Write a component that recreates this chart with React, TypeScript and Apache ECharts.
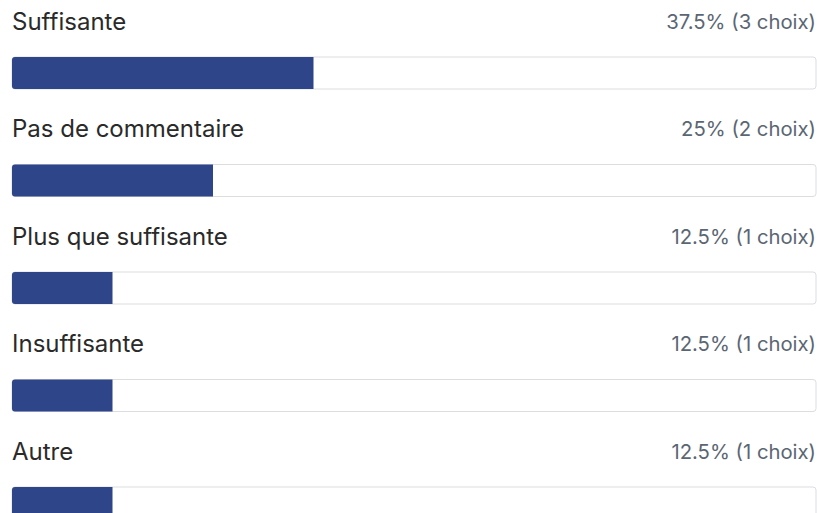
import React, { useEffect, useRef } from "react";
import * as echarts from "echarts";

const categories = ["Suffisante", "Pas de commentaire", "Plus que suffisante", "Insuffisante", "Autre"];
const percents = [37.5, 25, 12.5, 12.5, 12.5];
const counts = [3, 2, 1, 1, 1];
const fullScale = [100, 100, 100, 100, 100];

export default function App() {
  const ref = useRef<HTMLDivElement>(null);
  useEffect(() => {
    if (!ref.current) return;
    const chart = echarts.init(ref.current, null, { renderer: "svg" });
    const font = "Inter, 'Noto Sans', sans-serif";
    chart.setOption({
      animation: false,
      grid: { left: 12, right: 1, top: 19.25, height: 537.5, outerBoundsMode: "none", containLabel: false },
      xAxis: { type: "value", min: 0, max: 100, show: false },
      yAxis: { type: "category", data: categories, inverse: true, show: false },
      series: [
        {
          type: "bar",
          data: percents,
          barWidth: 32,
          itemStyle: { color: "#2e4589", borderRadius: [3, 0, 0, 3] },
          showBackground: true,
          backgroundStyle: { color: "#ffffff", borderColor: "#dcdde0", borderWidth: 1, borderRadius: 3 },
          silent: true,
        },
        {
          type: "bar",
          data: fullScale,
          barWidth: 32,
          barGap: "-100%",
          itemStyle: { color: "transparent" },
          silent: true,
          label: {
            show: true,
            position: [0, -36],
            align: "left",
            verticalAlign: "middle",
            formatter: (p: any) => categories[p.dataIndex],
            color: "#2a2a2a",
            fontSize: 24,
            fontFamily: font,
          },
        },
        {
          type: "bar",
          data: fullScale,
          barWidth: 32,
          barGap: "-100%",
          itemStyle: { color: "transparent" },
          silent: true,
          label: {
            show: true,
            position: ["100%", -36],
            align: "right",
            verticalAlign: "middle",
            formatter: (p: any) => `${percents[p.dataIndex]}% (${counts[p.dataIndex]} choix)`,
            color: "#5b6673",
            fontSize: 20.3,
            fontFamily: font,
          },
        },
      ],
    });
    return () => chart.dispose();
  }, []);
  return <div ref={ref} style={{ position: "fixed", left: 0, top: 0, width: 817, height: 513, background: "#fff" }} />;
}
